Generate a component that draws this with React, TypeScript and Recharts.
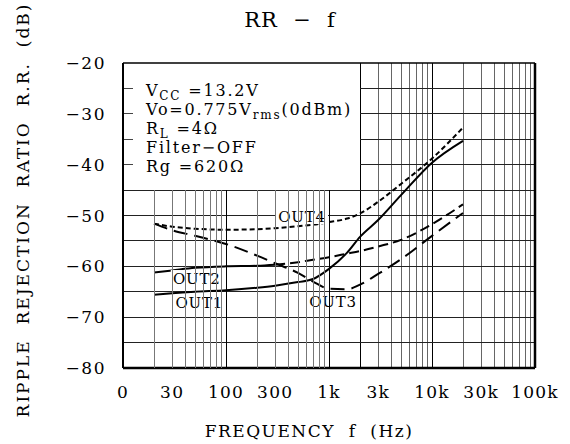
import React from "react";
import { LineChart, Line, XAxis, YAxis, ReferenceLine, ReferenceDot } from "recharts";

// frequency axis (Hz) and tick labels as printed on the sheet
const xTicks = [10, 30, 100, 300, 1000, 3000, 10000, 30000, 100000];
const xTickLabels = ["0", "30", "100", "300", "1k", "3k", "10k", "30k", "100k"];
const yTicks = [-80, -70, -60, -50, -40, -30, -20];
const hGridLevels = [-25, -30, -35, -40, -45, -50, -55, -60, -65, -70, -75];
const vGridLow = [20, 30, 40, 50, 60, 70, 80, 90, 100, 200, 300, 400, 500, 600, 700, 800, 900, 1000];
const vGridHigh = [2000, 3000, 4000, 5000, 6000, 7000, 8000, 9000, 10000, 20000, 30000, 40000, 50000, 60000, 70000, 80000, 90000];

// curves
const freqs = [20, 30, 50, 100, 200, 300, 500, 700, 1000, 1500, 2000, 3000, 5000, 10000, 20000];
const out1Values = [-65.6, -65.3, -65.0, -64.7, -64.2, -63.8, -63.1, -62.5, -60.5, -57.3, -54.2, -50.9, -46.0, -39.6, -35.3];
const out2Values = [-61.2, -60.8, -60.3, -60.0, -59.9, -59.7, -59.2, -58.7, -58.2, -57.5, -57.0, -56.1, -54.8, -51.7, -47.8];
const out3Values = [-51.6, -52.9, -54.0, -55.6, -57.9, -59.4, -61.3, -63.0, -64.4, -64.5, -63.6, -61.5, -58.6, -54.0, -49.5];
const out4Values = [-51.6, -52.2, -52.6, -52.8, -52.7, -52.5, -52.1, -51.8, -51.3, -50.6, -49.6, -47.3, -43.8, -38.8, -32.7];

// curve name labels (anchored in data space)
const curveLabels = [
  { name: "OUT4", f: 547, v: -50.1 },
  { name: "OUT2", f: 52, v: -62.3 },
  { name: "OUT1", f: 55, v: -67.2 },
  { name: "OUT3", f: 1095, v: -67.0 },
];

const BOX_F = 2000; // conditions box spans 10 Hz .. 2 kHz
const BOX_V = -45; // and -20 .. -45 dB

// plot rectangle shared by the chart margins and the grid layers
const PLOT = { left: 123, top: 63, width: 412, height: 305 };
const X_MIN = 10;
const X_MAX = 100000;
const Y_MIN = -80;
const Y_MAX = -20;
const px = (f: number) => PLOT.left + ((Math.log10(f) - Math.log10(X_MIN)) / (Math.log10(X_MAX) - Math.log10(X_MIN))) * PLOT.width;
const py = (v: number) => PLOT.top + ((Y_MAX - v) / (Y_MAX - Y_MIN)) * PLOT.height;

const toRows = (values: number[]) => freqs.map((f, i) => ({ f, v: values[i] }));
const out1 = toRows(out1Values);
const out2 = toRows(out2Values);
const out2Solid = out2.filter((d) => d.f <= 300);
const out2Dashed = out2.filter((d) => d.f >= 300);
const out3 = toRows(out3Values);
const out4 = toRows(out4Values);

const FONT = "'DejaVu Serif', serif";
const darkLine = (f: number) => f === 100 || f === 1000 || f === 10000 || f === BOX_F;

const makeLabel = (text: string) => (props: any) => {
  const { cx, cy } = props;
  return (
    <g>
      <rect x={cx - 26} y={cy - 8} width={52} height={16} fill="#fff" />
      <text x={cx} y={cy + 5.5} textAnchor="middle" fontSize={15} letterSpacing={0.8} fontFamily={FONT} fill="#000">
        {text}
      </text>
    </g>
  );
};

function GridUnderlay() {
  const bottom = py(Y_MIN);
  return (
    <svg width={570} height={444} style={{ position: "absolute", left: 0, top: 0 }} shapeRendering="crispEdges">
      {vGridHigh.map((f) => (
        <rect
          key={"vh" + f}
          x={Math.round(px(f)) - 0.5}
          y={py(Y_MAX)}
          width={1}
          height={bottom - py(Y_MAX)}
          fill={darkLine(f) ? "#000" : "#666"}
        />
      ))}
      {hGridLevels.map((v) => (
        <line key={"h" + v} x1={px(v > BOX_V ? BOX_F : X_MIN)} x2={px(X_MAX)} y1={py(v)} y2={py(v)} stroke="#222" strokeWidth={1} />
      ))}
      {hGridLevels
        .filter((v) => v > BOX_V)
        .map((v) => (
          <line key={"t" + v} x1={px(X_MIN)} x2={px(X_MIN) + 10} y1={py(v)} y2={py(v)} stroke="#444" strokeWidth={1} />
        ))}
    </svg>
  );
}

export default function App() {
  const lowTop = py(BOX_V);
  const bottom = py(Y_MIN);
  return (
    <div style={{ position: "absolute", left: 0, top: 0, width: 570, height: 444, background: "#fff", fontFamily: FONT }}>
      <GridUnderlay />
      <LineChart
        width={570}
        height={444}
        margin={{ top: PLOT.top, right: 570 - PLOT.left - PLOT.width, bottom: 444 - PLOT.top - PLOT.height - 30, left: PLOT.left - 60 }}
      >
        <XAxis
          dataKey="f"
          type="number"
          scale="log"
          domain={[X_MIN, X_MAX]}
          allowDataOverflow
          ticks={xTicks}
          tickFormatter={(v: number) => xTickLabels[xTicks.indexOf(v)] ?? ""}
          tick={{ fill: "#000", fontSize: 17, fontFamily: FONT, letterSpacing: 1.2 }}
          tickLine={false}
          tickMargin={12}
          height={30}
          axisLine={{ stroke: "#000", strokeWidth: 2.5 }}
        />
        <YAxis
          type="number"
          domain={[Y_MIN, Y_MAX]}
          ticks={yTicks}
          allowDataOverflow
          tickFormatter={(v: number) => String(v).replace("-", "\u2212")}
          tick={{ fill: "#000", fontSize: 17, fontFamily: FONT, letterSpacing: 1.5 }}
          tickLine={false}
          tickMargin={11}
          width={60}
          axisLine={{ stroke: "#000", strokeWidth: 2 }}
        />

        <ReferenceLine y={Y_MAX} stroke="#000" strokeWidth={1.5} />
        <ReferenceLine x={X_MAX} stroke="#000" strokeWidth={2.5} />

        <Line data={out1} dataKey="v" type="monotone" stroke="#000" strokeWidth={2} dot={false} isAnimationActive={false} />
        <Line data={out2Solid} dataKey="v" type="monotone" stroke="#000" strokeWidth={2} dot={false} isAnimationActive={false} />
        <Line data={out2Dashed} dataKey="v" type="monotone" stroke="#000" strokeWidth={2} strokeDasharray="10 5" dot={false} isAnimationActive={false} />
        <Line data={out3} dataKey="v" type="monotone" stroke="#000" strokeWidth={2} strokeDasharray="14 7" dot={false} isAnimationActive={false} />
        <Line data={out4} dataKey="v" type="monotone" stroke="#000" strokeWidth={2} strokeDasharray="5 3" dot={false} isAnimationActive={false} />

        {curveLabels.map((l) => (
          <ReferenceDot key={l.name} x={l.f} y={l.v} r={0} shape={makeLabel(l.name)} />
        ))}
      </LineChart>

      <svg width={570} height={444} style={{ position: "absolute", left: 0, top: 0, pointerEvents: "none" }}>
        {/* low-frequency grid below the conditions box, drawn on top */}
        <g shapeRendering="crispEdges">
          {vGridLow.map((f) => (
            <rect
              key={"vl" + f}
              x={Math.round(px(f)) - 0.5}
              y={lowTop}
              width={1}
              height={bottom - lowTop}
              fill={darkLine(f) ? "#000" : "#777"}
            />
          ))}
        </g>
        <text x={290} y={27} textAnchor="middle" fontSize={21} letterSpacing={1} fontFamily={FONT}>
          RR {"\u00a0\u2212\u00a0"} f
        </text>
        <text x={309} y={437} textAnchor="middle" fontSize={17} letterSpacing={1.5} fontFamily={FONT} style={{ whiteSpace: "pre" }}>
          {"FREQUENCY  f  (Hz)"}
        </text>
        <text
          transform="translate(29 210) rotate(-90)"
          textAnchor="middle"
          fontSize={17}
          letterSpacing={2}
          fontFamily={FONT}
          style={{ whiteSpace: "pre" }}
        >
          {"RIPPLE  REJECTION  RATIO  R.R.  (dB)"}
        </text>
        <g fontFamily={FONT} fontSize={16} letterSpacing={1.8} fill="#000">
          <text x={146} y={96}>
            V<tspan fontSize={12} dy={4}>CC</tspan>
            <tspan dy={-4}> =13.2V</tspan>
          </text>
          <text x={146} y={115}>
            Vo=0.775V<tspan fontSize={12} dy={4}>rms</tspan>
            <tspan dy={-4}>(0dBm)</tspan>
          </text>
          <text x={146} y={134}>
            R<tspan fontSize={12} dy={4}>L</tspan>
            <tspan dy={-4}> =4Ω</tspan>
          </text>
          <text x={146} y={153}>Filter−OFF</text>
          <text x={146} y={172}>Rg =620Ω</text>
        </g>
      </svg>
    </div>
  );
}
